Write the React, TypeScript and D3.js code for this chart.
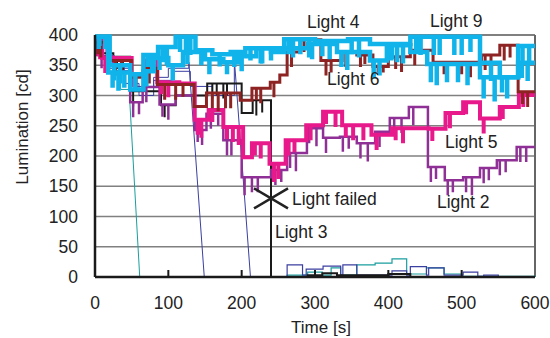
import React from "react";
import * as d3 from "d3";

type P = [number, number];

const xTicks = [0, 100, 200, 300, 400, 500, 600];
const yTicks = [0, 50, 100, 150, 200, 250, 300, 350, 400];

// Light 9 (cyan, upper)
const light9: P[] = [[0,397],[18,338],[48,335],[66,367],[86,380],[110,397],[137,375],[160,368],[185,372],[205,378],[240,372],[258,393],[300,390],[345,393],[375,385],[430,397],[453,397],[525,354],[552,330],[577,382],[600,382]];
// Light 4 (cyan, lower)
const light4: P[] = [[0,397],[20,350],[48,310],[66,340],[80,362],[100,350],[120,372],[150,360],[175,355],[195,365],[220,378],[258,378],[290,385],[330,372],[375,358],[398,383],[430,372],[453,352],[525,330],[577,354],[600,354]];
// Light 6 (brown)
const light6: P[] = [[0,388],[20,358],[50,330],[68,345],[85,318],[135,282],[152,304],[198,292],[214,312],[239,322],[252,334],[262,372],[280,392],[308,358],[337,372],[357,367],[379,348],[400,364],[430,375],[461,355],[527,367],[552,383],[577,306],[600,306]];
// Light 5 (magenta)
const light5: P[] = [[0,390],[10,362],[50,334],[70,358],[85,322],[115,320],[136,260],[155,276],[175,248],[202,198],[214,221],[238,187],[260,226],[288,251],[311,273],[337,251],[377,235],[405,246],[455,245],[478,271],[502,289],[525,262],[552,281],[578,301],[600,301]];
// Light 2 (purple)
const light2: P[] = [[0,390],[8,365],[25,340],[48,289],[65,314],[88,285],[110,300],[136,243],[152,270],[175,226],[200,165],[240,177],[262,205],[289,246],[311,230],[334,232],[357,221],[382,240],[402,263],[428,281],[454,182],[477,160],[502,165],[525,180],[548,193],[575,215],[600,215]];
// Light 3 (black) - fails at 240
const light3: P[] = [[0,392],[10,370],[25,364],[48,307],[90,284],[110,300],[153,320],[200,271],[215,292],[240,292],[240,0],[290,3],[310,6],[330,3],[400,5],[430,0],[600,0]];
// teal light (fades out ~61)
const tealSteps: P[] = [[0,395],[20,340],[35,310],[47,300]];
const tealFadeEnd = 61;
const tealLow: P[] = [[61,0],[262,3],[290,8],[310,3],[322,15],[335,3],[357,20],[382,23],[405,30],[425,5],[452,15],[476,5],[500,1],[600,0]];
// navy light A (fades out ~149)
const navyASteps: P[] = [[0,395],[15,350],[40,320],[60,300],[80,330],[100,345],[128,355]];
const navyAFadeEnd = 149;
// navy light B (fades out ~212)
const navyBSteps: P[] = [[0,395],[20,345],[50,315],[80,325],[105,340],[130,315],[160,300],[190,360]];
const navyBFadeEnd = 212;
const navyLow: P[] = [[149,0],[262,20],[283,3],[288,13],[311,18],[335,3],[338,20],[357,3],[405,10],[425,3],[430,17],[452,3],[455,15],[476,3],[502,8],[522,1],[530,3],[550,0],[600,0]];

// downward notches: [time, depth]
const spikes9: P[] = [[6,15],[14,20],[24,25],[32,30],[40,25],[55,25],[72,20],[78,25],[92,25],[98,30],[116,25],[124,30],[130,30],[145,25],[170,20],[190,25],[212,20],[228,25],[264,25],[270,30],[280,25],[292,30],[310,25],[320,30],[350,25],[360,30],[405,25],[412,30],[438,25],[444,30],[462,30],[470,30],[490,30],[500,30],[512,25],[540,30],[555,25],[583,25],[592,30]];
const spikes4: P[] = [[5,20],[26,25],[34,30],[70,25],[88,20],[106,25],[126,20],[156,25],[180,20],[200,25],[226,25],[240,20],[296,25],[336,25],[344,30],[380,30],[388,25],[404,25],[420,30],[458,30],[466,35],[480,30],[495,30],[508,35],[530,35],[545,40],[562,35],[582,25],[590,30]];
const spikes6: P[] = [[4,20],[8,25],[28,25],[36,20],[56,20],[74,25],[95,25],[110,25],[120,20],[160,25],[168,30],[178,25],[185,25],[220,20],[226,25],[244,25],[268,25],[285,20],[315,25],[322,20],[342,25],[362,20],[368,15],[386,10],[393,10],[410,20],[418,25],[436,25],[466,25],[476,20],[500,20],[512,25],[532,25],[540,20],[558,25],[566,20],[583,20],[590,25]];
const spikes5: P[] = [[3,25],[7,30],[14,25],[52,20],[90,20],[100,25],[140,25],[145,30],[160,20],[180,20],[188,25],[196,30],[218,20],[226,25],[244,30],[250,25],[264,25],[272,20],[294,25],[315,20],[328,25],[342,20],[352,25],[366,25],[384,25],[410,20],[420,25],[460,20],[484,25],[506,20],[530,25],[556,20],[584,20]];
const spikes2: P[] = [[4,25],[9,20],[52,25],[60,20],[70,25],[92,20],[100,25],[140,20],[146,25],[158,25],[168,20],[180,25],[186,25],[204,30],[214,25],[222,25],[246,25],[254,20],[266,25],[274,30],[292,25],[302,30],[315,25],[338,25],[346,20],[362,25],[372,30],[388,25],[408,25],[418,25],[434,30],[458,25],[465,20],[481,25],[488,20],[506,25],[514,30],[530,25],[537,20],[552,25],[560,20],[580,25],[588,25]];
const spikes3: P[] = [[30,20],[38,25],[52,25],[95,20],[160,25],[166,20],[175,25],[180,20],[220,25],[228,20]];

const labels: { text: string; x: number; y: number }[] = [
  { text: "Light 4", x: 307, y: 28 },
  { text: "Light 9", x: 430, y: 27 },
  { text: "Light 6", x: 327, y: 85 },
  { text: "Light 5", x: 445, y: 148 },
  { text: "Light 2", x: 437, y: 208 },
  { text: "Light failed", x: 292, y: 205 },
  { text: "Light 3", x: 275, y: 238 },
];
const failPoint: P = [240, 130];

const W = 550, H = 338;
const x = d3.scaleLinear().domain([0, 600]).range([95, 535]);
const y = d3.scaleLinear().domain([0, 400]).range([277, 35]);

const stepLine = d3.line<P>().x(d => x(d[0])).y(d => y(d[1])).curve(d3.curveStepAfter);
const straight = d3.line<P>().x(d => x(d[0])).y(d => y(d[1]));

function levelAt(s: P[], t: number) {
  let v = s[0][1];
  for (const p of s) { if (p[0] <= t) v = p[1]; else break; }
  return v;
}

function spikePath(s: P[], sp: P[]) {
  return sp.map(([t, dpt]) => {
    const v = levelAt(s, t);
    return `M${x(t)},${y(v)}V${y(v - dpt)}`;
  }).join("");
}

const font = "'Liberation Sans', Arial, sans-serif";

function Series({ data, spikes, color, w }: { data: P[]; spikes: P[]; color: string; w: number }) {
  return (
    <g>
      <path d={stepLine(data) || ""} fill="none" stroke={color} strokeWidth={w} />
      <path d={spikePath(data, spikes)} fill="none" stroke={color} strokeWidth={w} />
    </g>
  );
}

function Fading({ steps, end, color }: { steps: P[]; end: number; color: string }) {
  const last = steps[steps.length - 1];
  return (
    <g>
      <path d={stepLine(steps) || ""} fill="none" stroke={color} strokeWidth={1} />
      <path d={straight([last, [end, 0]]) || ""} fill="none" stroke={color} strokeWidth={1} />
    </g>
  );
}

export default function App() {
  return (
    <svg width={W} height={H} style={{ position: "absolute", left: 0, top: 0, background: "#fff" }} fontFamily={font}>
      {/* grid */}
      {yTicks.filter(v => v > 0).map(v => (
        <line key={v} x1={x(0)} x2={x(600)} y1={y(v)} y2={y(v)} stroke="#808080" strokeWidth={v === 400 ? 2 : 1.5} />
      ))}
      <line x1={x(600)} x2={x(600)} y1={y(0)} y2={y(400)} stroke="#666" strokeWidth={2} />

      {/* thin lights */}
      <Fading steps={tealSteps} end={tealFadeEnd} color="#1a9e9e" />
      <path d={stepLine(tealLow) || ""} fill="none" stroke="#1a9e9e" strokeWidth={1.2} />
      <Fading steps={navyASteps} end={navyAFadeEnd} color="#3b3fa0" />
      <Fading steps={navyBSteps} end={navyBFadeEnd} color="#3b3fa0" />
      <path d={stepLine(navyLow) || ""} fill="none" stroke="#3b3fa0" strokeWidth={1.2} />

      <Series data={light3} spikes={spikes3} color="#1a1a1a" w={2} />
      <Series data={light2} spikes={spikes2} color="#8f3096" w={2.5} />
      <Series data={light5} spikes={spikes5} color="#e8198b" w={4} />
      <Series data={light6} spikes={spikes6} color="#8e2323" w={3} />
      <Series data={light4} spikes={spikes4} color="#10b4ea" w={4.5} />
      <Series data={light9} spikes={spikes9} color="#10b4ea" w={4.5} />

      {/* axes */}
      <line x1={x(0)} x2={x(600)} y1={y(0)} y2={y(0)} stroke="#1a1a1a" strokeWidth={2.5} />
      <line x1={x(0)} x2={x(0)} y1={y(0)} y2={y(400)} stroke="#1a1a1a" strokeWidth={2.5} />
      {xTicks.slice(1, -1).map(t => (
        <line key={t} x1={x(t)} x2={x(t)} y1={y(0)} y2={y(0) - 7} stroke="#1a1a1a" strokeWidth={2} />
      ))}
      {yTicks.map(v => (
        <text key={v} x={78} y={y(v) + 6} textAnchor="end" fontSize={17.5} fill="#222">{v}</text>
      ))}
      {xTicks.map(t => (
        <text key={t} x={x(t)} y={309} textAnchor="middle" fontSize={17.5} fill="#222">{t}</text>
      ))}
      <text x={321} y={333} textAnchor="middle" fontSize={17} fill="#222">Time [s]</text>
      <text transform={`translate(28,127) rotate(-90)`} textAnchor="middle" fontSize={17} fill="#222">Lumination [cd]</text>

      {/* failure marker */}
      <g stroke="#222" strokeWidth={2.5}>
        <line x1={x(failPoint[0]) - 17} x2={x(failPoint[0]) + 17} y1={y(failPoint[1]) - 10} y2={y(failPoint[1]) + 10} />
        <line x1={x(failPoint[0]) - 17} x2={x(failPoint[0]) + 17} y1={y(failPoint[1]) + 10} y2={y(failPoint[1]) - 10} />
      </g>
      {labels.map(l => (
        <text key={l.text} x={l.x} y={l.y} fontSize={17.5} fill="#222">{l.text}</text>
      ))}
    </svg>
  );
}
